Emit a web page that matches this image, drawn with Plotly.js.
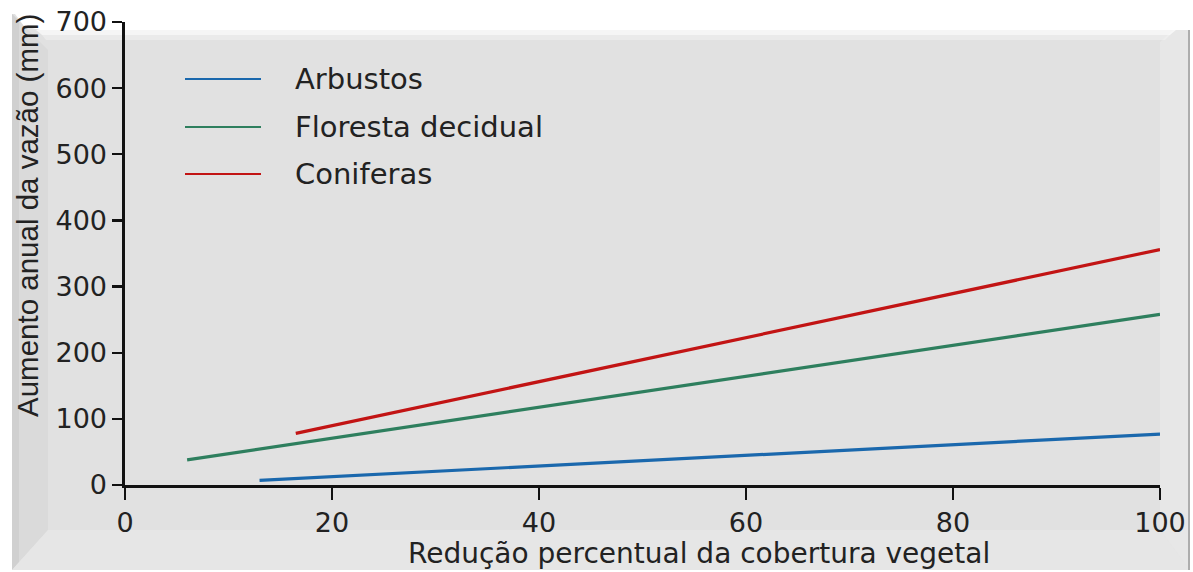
<!DOCTYPE html>
<html>
<head>
<meta charset="utf-8">
<script src="https://cdn.plot.ly/plotly-3.0.1.min.js"></script>
<style>html,body{margin:0;padding:0;background:#fff;}#chart{width:1193px;height:572px;}</style>
</head>
<body>
<div id="chart"></div>
<script>
// Data
const seriesNames = ["Arbustos", "Floresta decidual", "Coniferas"];
const arbustosX = [13, 40, 100];
const arbustosY = [7, 29, 77];
const florestaX = [6, 40, 100];
const florestaY = [38, 118, 258];
const coniferasX = [16.5, 40, 100];
const coniferasY = [78, 156, 356];
const xTicks = [0, 20, 40, 60, 80, 100];
const yTicks = [0, 100, 200, 300, 400, 500, 600, 700];
const xTitle = "Redução percentual da cobertura vegetal";
const yTitle = "Aumento anual da vazão (mm)";
const colors = ["#1a68ad", "#2e7f5e", "#c21414"];

const W = 1193, H = 572, L = 125, R = 33, T = 22, B = 87;
const pw = W - L - R, ph = H - T - B;
const px = v => (v - L) / pw;
const py = v => (H - B - v) / ph;

const wideFont = "DejaVu Sans, Arial, sans-serif";
const narrowFont = "Liberation Sans, Arial, sans-serif";
const traces = [
  {x: arbustosX, y: arbustosY, name: seriesNames[0]},
  {x: florestaX, y: florestaY, name: seriesNames[1]},
  {x: coniferasX, y: coniferasY, name: seriesNames[2]}
].map((t, i) => Object.assign(t, {type: "scatter", mode: "lines", line: {color: colors[i], width: 3.2}, showlegend: false, hoverinfo: "skip"}));

function poly(pts) {
  return "M" + pts.map(p => px(p[0]) + "," + py(p[1])).join(" L") + " Z";
}
const shapes = [
  {type: "path", xref: "paper", yref: "paper", layer: "below", path: poly([[12,14],[1190,14],[1190,570],[12,570]]), fillcolor: "#e1e1e1", line: {width: 0}},
  // left bevel
  {type: "path", xref: "paper", yref: "paper", layer: "below", path: poly([[12,14],[48,50],[48,530],[12,570]]), fillcolor: "#dadada", line: {width: 0}},
  {type: "path", xref: "paper", yref: "paper", layer: "below", path: poly([[12,14],[19,21],[19,562],[12,570]]), fillcolor: "#d0d0d0", line: {width: 0}},
  // bottom bevel
  {type: "path", xref: "paper", yref: "paper", layer: "below", path: poly([[12,570],[48,530],[1160,530],[1190,570]]), fillcolor: "#e6e6e6", line: {width: 0}},
  // right bevel
  {type: "path", xref: "paper", yref: "paper", layer: "below", path: poly([[1190,14],[1160,42],[1160,530],[1190,570]]), fillcolor: "#e7e7e7", line: {width: 0}},
  {type: "line", xref: "paper", yref: "paper", layer: "below", x0: px(1189), x1: px(1189), y0: py(16), y1: py(570), line: {color: "#9a9a9a", width: 1.5}},
  // top white fade
  {type: "path", xref: "paper", yref: "paper", layer: "below", path: poly([[12,10],[1193,10],[1193,30],[1172,30],[40,30],[24,26]]), fillcolor: "#ffffff", line: {width: 0}},
  {type: "path", xref: "paper", yref: "paper", layer: "below", path: poly([[36,30],[1176,30],[1170,35],[42,35]]), fillcolor: "rgba(255,255,255,0.65)", line: {width: 0}},
  {type: "path", xref: "paper", yref: "paper", layer: "below", path: poly([[42,35],[1170,35],[1165,40],[46,40]]), fillcolor: "rgba(255,255,255,0.3)", line: {width: 0}}
];

const legY = [79, 127, 174];
const annotations = [];
seriesNames.forEach((n, i) => {
  shapes.push({type: "line", xref: "paper", yref: "paper", x0: px(185), x1: px(261), y0: py(legY[i]), y1: py(legY[i]), line: {color: colors[i], width: 2.2}});
  annotations.push({xref: "paper", yref: "paper", x: px(293), y: py(legY[i]), xanchor: "left", yanchor: "middle", text: n, showarrow: false, font: {family: wideFont, size: 29, color: "#222"}});
});
// axis titles (placed as in the reference, x title is off-centre)
annotations.push({xref: "paper", yref: "paper", x: px(699), y: py(553), xanchor: "center", yanchor: "middle", text: xTitle, showarrow: false, font: {family: wideFont, size: 28, color: "#222"}});
annotations.push({xref: "paper", yref: "paper", x: px(27), y: py(216), xanchor: "center", yanchor: "middle", textangle: -90, text: yTitle, showarrow: false, font: {family: narrowFont, size: 29.5, color: "#222"}});

const axisCommon = {
  showgrid: false, zeroline: false, showline: true, linecolor: "#111", linewidth: 2.6,
  ticks: "outside", tickcolor: "#111", tickwidth: 2.4, fixedrange: true,
  tickfont: {family: wideFont, size: 27, color: "#222"}
};

const layout = {
  width: W, height: H,
  margin: {l: L, r: R, t: T, b: B, pad: 0},
  paper_bgcolor: "#ffffff", plot_bgcolor: "rgba(0,0,0,0)",
  xaxis: Object.assign({}, axisCommon, {range: [0, 100], tickvals: xTicks, ticktext: xTicks.map(String), ticklen: 12}),
  yaxis: Object.assign({}, axisCommon, {range: [0, 700], tickvals: yTicks, ticktext: yTicks.map(String), ticklen: 10}),
  shapes: shapes, annotations: annotations, showlegend: false
};

Plotly.newPlot("chart", traces, layout, {staticPlot: true, displayModeBar: false});
</script>
</body>
</html>
